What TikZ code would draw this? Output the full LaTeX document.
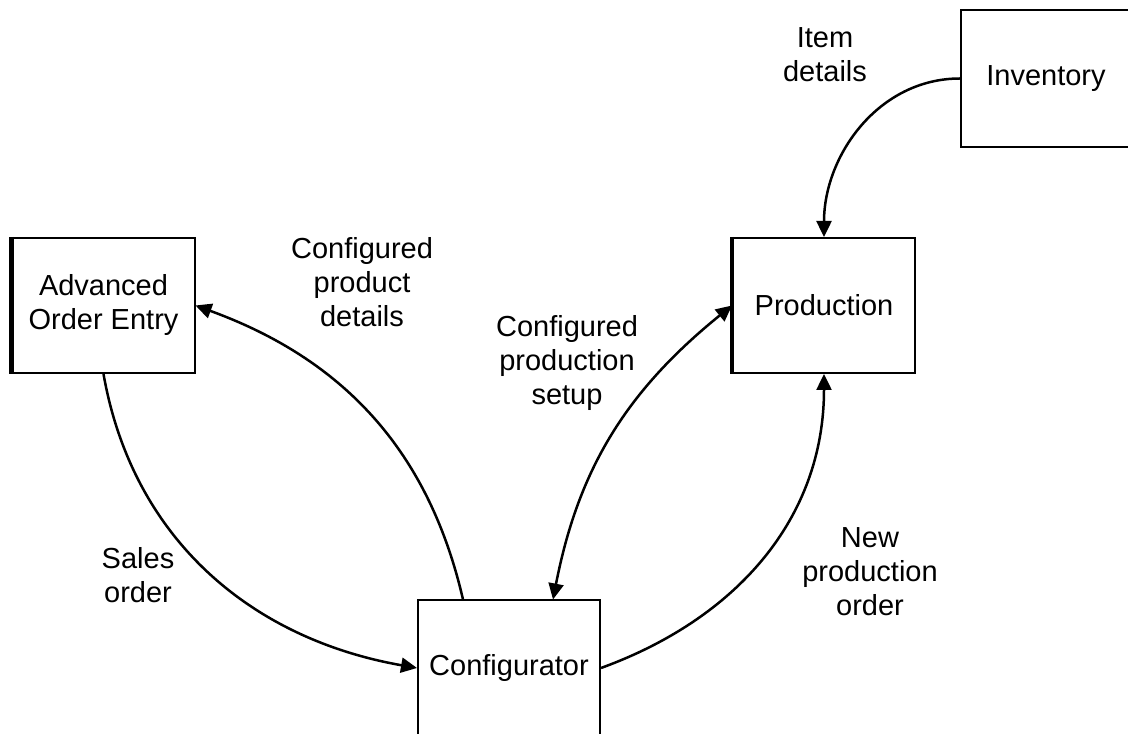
\documentclass[tikz,border=0pt]{standalone}
\usepackage{fontspec}
\setmainfont{Liberation Sans}
\usetikzlibrary{positioning,arrows.meta}
\tikzset{block/.style={draw,line width=2pt,minimum width=182pt,minimum height=135pt,align=center,inner sep=0pt}}
\tikzset{flow/.style={line width=2.5pt,-{Triangle[length=16pt,width=15pt]}}}
\tikzset{twoway/.style={line width=2.5pt,{Triangle[length=16pt,width=15pt]}-{Triangle[length=16pt,width=15pt]}}}
\tikzset{lbl/.style={align=center}}
\tikzset{heavy/.style={line width=4.5pt}}

\begin{document}
\begin{tikzpicture}[x=1pt,y=1pt,font=\fontsize{29}{34}\selectfont]
	\useasboundingbox (0,0) rectangle (1128,734);

	%% Blocks
	\node[block] (aoe) at (103.5,428.5) {Advanced\\Order Entry};
	\node[block] (prod) at (824,428.5) {Production};
	\node[block,minimum width=170pt,minimum height=137pt] (inv) at (1046,655.5) {Inventory};
	\node[block] (conf) at (509,66) {Configurator};
	\draw[heavy] (aoe.north west) -- (aoe.south west);
	\draw[heavy] (prod.north west) -- (prod.south west);

	%% Flows
	\draw[flow] (inv.west) to[out=180,in=90] (prod.north);
	\draw[flow] ([xshift=-46pt]conf.north) to[out=103,in=-20] (aoe.east);
	\draw[twoway] ([xshift=44pt]conf.north) to[out=79,in=219] (prod.west);
	\draw[flow] (conf.east) to[out=20,in=-90] (prod.south);
	\draw[flow] (aoe.south) to[out=-80,in=170] (conf.west);

	%% Labels
	\node[lbl] (litem) at (825,679) {Item\\details};
	\node[lbl] (lcpd) at (362,452) {Configured\\product\\details};
	\node[lbl] (lcps) at (567,371) {Configured\\production\\setup};
	\node[lbl] (lnpo) at (870,162) {New\\production\\order};
	\node[lbl] (lso) at (138,159) {Sales\\order};

\end{tikzpicture}
\end{document}
